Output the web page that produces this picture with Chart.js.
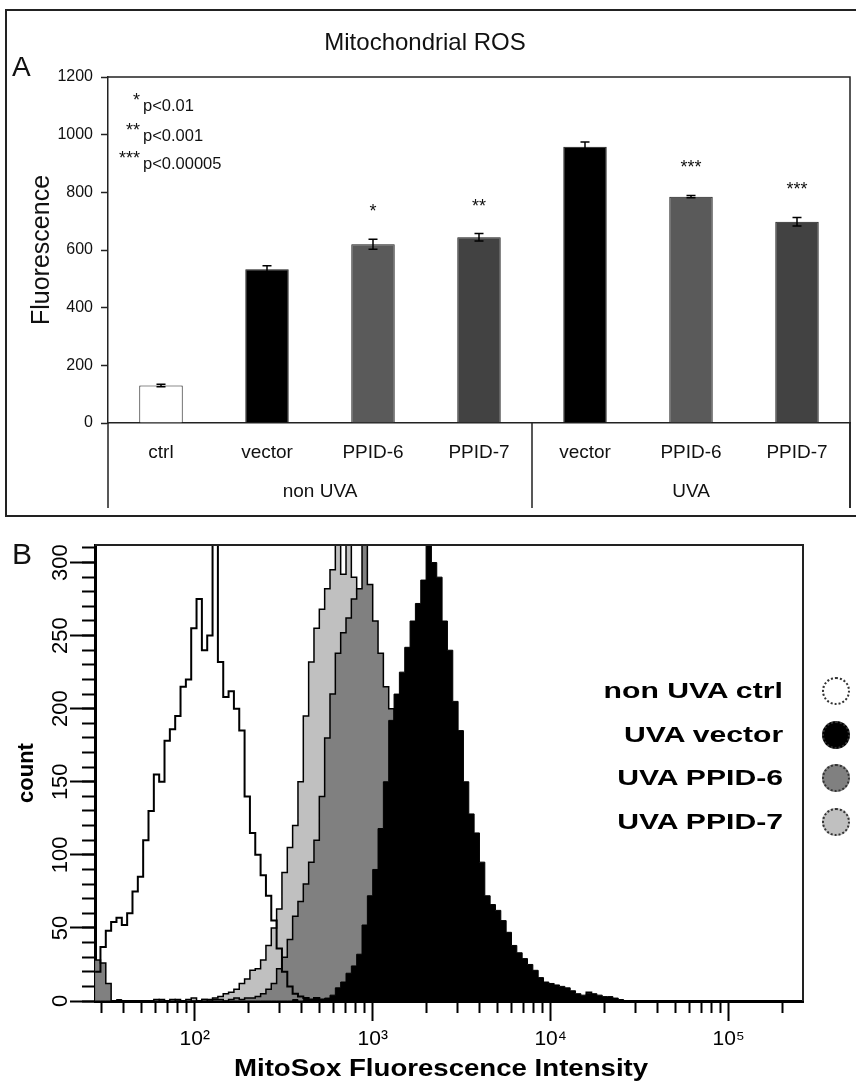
<!DOCTYPE html>
<html>
<head>
<meta charset="utf-8">
<script src="https://cdn.jsdelivr.net/npm/chart.js@4.4.1/dist/chart.umd.min.js"></script>
<style>
html,body{margin:0;padding:0;background:#fff;}
body{width:856px;height:1083px;position:relative;overflow:hidden;font-family:'Liberation Sans',Arial,sans-serif;color:#111;}
#boxA{position:absolute;left:5px;top:9px;width:900px;height:504px;border:2px solid #222;}
canvas{position:absolute;left:0;}
#cA{top:0;}
#cB{top:520px;}
.panelLetter{position:absolute;line-height:1;color:#111;}
.legText{position:absolute;right:73px;font-weight:bold;font-size:22px;line-height:1;white-space:nowrap;transform:scaleX(1.37);transform-origin:right center;color:#000;}
.legDot{position:absolute;width:24px;height:24px;border:2px dotted #333;border-radius:50%;box-sizing:content-box;}
#xTitleB{position:absolute;left:0;width:882px;top:1056px;text-align:center;font-weight:bold;font-size:24px;line-height:1;color:#000;}
#xTitleB span{display:inline-block;transform:scaleX(1.15);}
</style>
</head>
<body>
<div id="boxA"></div>
<canvas id="cA" width="856" height="520"></canvas>
<canvas id="cB" width="856" height="563"></canvas>
<div class="panelLetter" style="left:12px;top:53px;font-size:28px;">A</div>
<div class="panelLetter" style="left:12px;top:539px;font-size:30px;">B</div>
<div id="legendB"></div>
<div id="xTitleB"><span>MitoSox Fluorescence Intensity</span></div>
<script>
// ---------------- Panel A data ----------------
const categories   = ['ctrl', 'vector', 'PPID-6', 'PPID-7', 'vector', 'PPID-6', 'PPID-7'];
const groupLabels  = ['non UVA', 'UVA'];
const groupSizes   = [4, 3];
const fluorescence = [130, 533, 620, 644, 958, 785, 698];
const errors       = [4, 12, 17, 13, 17, 4, 15];
const significance = ['', '', '*', '**', '', '***', '***'];
const pValueStars  = ['*', '**', '***'];
const pValueTexts  = ['p<0.01', 'p<0.001', 'p<0.00005'];
const yTicksA      = [0, 200, 400, 600, 800, 1000, 1200];

// ---------------- Panel B data ----------------
const seriesNames = ['non UVA ctrl', 'UVA vector', 'UVA PPID-6', 'UVA PPID-7'];
// channel positions (log10 of intensity), one per histogram bin
const channelLog = [
 1.44,1.47,1.50,1.53,1.56,1.59,1.62,1.65,1.68,1.71,
 1.74,1.77,1.80,1.83,1.86,1.89,1.92,1.95,1.98,2.01,
 2.04,2.07,2.10,2.13,2.16,2.19,2.22,2.25,2.28,2.31,
 2.34,2.37,2.40,2.43,2.46,2.49,2.52,2.55,2.58,2.61,
 2.64,2.67,2.70,2.73,2.76,2.79,2.82,2.85,2.88,2.91,
 2.94,2.97,3.00,3.03,3.06,3.09,3.12,3.15,3.18,3.21,
 3.24,3.27,3.30,3.33,3.36,3.39,3.42,3.45,3.48,3.51,
 3.54,3.57,3.60,3.63,3.66,3.69,3.72,3.75,3.78,3.81,
 3.84,3.87,3.90,3.93,3.96,3.99,4.02,4.05,4.08,4.11,
 4.14,4.17,4.20,4.23,4.26,4.29,4.32,4.35,4.38,4.41,
 4.44];
const ctrlCounts = [
 20,37,48,54,57,52,60,75,85,110,
 130,155,150,178,186,195,215,220,255,275,
 240,250,312,232,208,212,200,185,140,115,
 100,86,72,55,36,20,10,5,3,2,
 1,2,1,1,0,1,0,0,1,0,
 0,0,0,0,0,0,0,0,0,0,
 0,0,0,0,0,0,0,0,0,0,
 0,0,0,0,0,0,0,0,0,0,
 0,0,0,0,0,0,0,0,0,0,
 0,0,0,0,0,0,0,0,0,0,
 0];
const vectorCounts = [
 0,0,0,0,1,0,0,0,0,0,
 0,0,0,0,0,0,0,0,0,0,
 0,0,0,0,0,0,0,0,0,0,
 0,0,0,0,0,0,0,1,0,1,
 1,1,1,2,4,9,13,19,24,32,
 52,72,90,118,150,192,210,225,242,260,
 272,288,312,300,290,260,240,205,185,150,
 128,115,95,72,66,62,55,47,38,33,
 29,25,21,16,13,12,11,10,9,7,
 5,4,5,5,4,3,3,2,1,0,
 0];
const ppid6Counts = [
 28,26,12,0,0,0,0,0,0,0,
 0,1,0,0,1,0,0,1,0,0,
 1,0,1,1,0,1,2,1,2,2,
 3,5,8,12,22,30,42,58,68,80,
 95,110,140,180,210,238,252,262,275,282,
 312,285,260,238,215,200,178,150,125,100,
 80,60,45,32,22,15,10,7,5,3,
 2,2,1,1,1,1,0,1,0,0,
 0,0,0,0,0,0,0,0,0,0,
 0,0,6,0,0,0,0,0,0,0,
 0];
const ppid7Counts = [
 0,0,0,0,0,0,0,0,0,0,
 0,0,1,0,0,1,0,0,2,0,
 1,1,2,3,5,6,8,12,15,21,
 22,28,38,50,63,88,105,120,150,195,
 232,255,268,282,295,312,292,312,290,278,
 255,225,190,155,125,95,72,52,38,27,
 18,12,8,5,3,2,1,1,0,0,
 0,0,0,0,0,0,0,0,0,0,
 0,0,0,0,0,0,0,0,0,0,
 0,0,0,0,0,0,0,0,0,0,
 0];
const xMinorTicks = [30,40,50,60,70,80,90,200,300,400,500,600,700,800,900,
                     2000,3000,4000,5000,6000,7000,8000,9000,
                     20000,30000,40000,50000,60000,70000,80000,90000,200000];
const xDecadeTicks  = [100, 1000, 10000, 100000];
const xDecadeLabels = ['10²', '10³', '10⁴', '10⁵'];
const xRange = [27.5, 262000];
const yRangeB = [0, 312];

// ---------------- styles ----------------
const ARIAL = "'Liberation Sans',Arial,sans-serif";
const barColors = ['#ffffff', '#000000', '#5a5a5a', '#424242', '#000000', '#5a5a5a', '#424242'];
const seriesFill = ['rgba(0,0,0,0)', '#000000', '#808080', '#c0c0c0'];

// ---------------- Panel A ----------------
const panelADecor = {
  id: 'panelADecor',
  afterDatasetsDraw(chart) {
    const {ctx, scales: {y}} = chart;
    const meta = chart.getDatasetMeta(0);
    ctx.save();
    ctx.strokeStyle = '#000';
    ctx.lineWidth = 1.5;
    meta.data.forEach((bar, i) => {
      const yt = y.getPixelForValue(fluorescence[i] + errors[i]);
      const yb = y.getPixelForValue(fluorescence[i] - errors[i]);
      ctx.beginPath();
      ctx.moveTo(bar.x, yt); ctx.lineTo(bar.x, yb);
      ctx.moveTo(bar.x - 4.5, yt); ctx.lineTo(bar.x + 4.5, yt);
      ctx.moveTo(bar.x - 4.5, yb); ctx.lineTo(bar.x + 4.5, yb);
      ctx.stroke();
    });
    ctx.fillStyle = '#111';
    ctx.font = '18px ' + ARIAL;
    ctx.textAlign = 'center';
    ctx.textBaseline = 'middle';
    meta.data.forEach((bar, i) => {
      if (significance[i]) {
        ctx.fillText(significance[i], bar.x, y.getPixelForValue(fluorescence[i] + errors[i]) - 27);
      }
    });
    ctx.restore();
  },
  afterDraw(chart) {
    const {ctx, chartArea: ca, scales: {x}} = chart;
    ctx.save();
    ctx.strokeStyle = '#222';
    ctx.lineWidth = 1.5;
    const bottomExt = ca.bottom + 85;
    // frame: top + right
    ctx.beginPath();
    ctx.moveTo(ca.left, ca.top); ctx.lineTo(ca.right, ca.top); ctx.lineTo(ca.right, bottomExt);
    ctx.stroke();
    // group dividers and group labels
    let start = 0;
    const bounds = [x.left];
    groupSizes.forEach((n) => {
      const end = start + n - 1;
      const rightEdge = end === categories.length - 1 ? x.right
        : (x.getPixelForValue(end) + x.getPixelForValue(end + 1)) / 2;
      bounds.push(rightEdge);
      start += n;
    });
    ctx.beginPath();
    bounds.forEach((bx) => { ctx.moveTo(bx, ca.bottom); ctx.lineTo(bx, bottomExt); });
    ctx.stroke();
    ctx.fillStyle = '#111';
    ctx.font = '19px ' + ARIAL;
    ctx.textAlign = 'center';
    ctx.textBaseline = 'middle';
    groupLabels.forEach((g, i) => {
      ctx.fillText(g, (bounds[i] + bounds[i + 1]) / 2, ca.bottom + 69);
    });
    // p-value notes
    const rowsY = [29, 59, 87];
    pValueTexts.forEach((t, i) => {
      ctx.font = '18px ' + ARIAL;
      ctx.textAlign = 'right';
      ctx.fillText(pValueStars[i], ca.left + 32, ca.top + rowsY[i] - 5);
      ctx.font = '16.5px ' + ARIAL;
      ctx.textAlign = 'left';
      ctx.fillText(t, ca.left + 35, ca.top + rowsY[i]);
    });
    ctx.restore();
  }
};

new Chart(document.getElementById('cA'), {
  type: 'bar',
  data: {
    labels: categories,
    datasets: [{
      data: fluorescence,
      backgroundColor: barColors,
      borderColor: '#1a1a1a',
      borderWidth: 1,
      barPercentage: 0.41,
      categoryPercentage: 1
    }]
  },
  options: {
    responsive: false,
    animation: false,
    devicePixelRatio: 1,
    layout: {padding: {left: 0, right: 6, top: 0, bottom: 0}},
    plugins: {
      legend: {display: false},
      tooltip: {enabled: false},
      title: {
        display: true, text: 'Mitochondrial ROS', color: '#111',
        font: {family: ARIAL, size: 24, weight: 'normal'},
        padding: {top: 29, bottom: 19.2}
      }
    },
    scales: {
      x: {
        grid: {display: false, drawTicks: false},
        border: {display: true, color: '#222', width: 1.5},
        ticks: {color: '#111', font: {family: ARIAL, size: 19}, padding: 18, autoSkip: false, maxRotation: 0},
        afterFit: (s) => { s.height = 97; }
      },
      y: {
        min: 0, max: 1200,
        afterBuildTicks: (s) => { s.ticks = yTicksA.map((v) => ({value: v})); },
        ticks: {color: '#111', font: {family: ARIAL, size: 16}, padding: 8, callback: (v) => String(v)},
        grid: {display: true, drawOnChartArea: false, drawTicks: true, tickLength: 7, tickColor: '#222', tickWidth: 1.5},
        border: {display: true, color: '#222', width: 1.5},
        title: {display: true, text: 'Fluorescence', color: '#111', font: {family: ARIAL, size: 25}, padding: {top: 27, bottom: 0}},
        afterFit: (s) => { s.width = 108; }
      }
    }
  },
  plugins: [panelADecor]
});

// ---------------- Panel B ----------------
const countsBySeries = [ctrlCounts, vectorCounts, ppid6Counts, ppid7Counts];
const datasetsB = countsBySeries.map((counts, i) => ({
  label: seriesNames[i],
  data: channelLog.map((c, k) => ({x: Math.pow(10, c), y: counts[k]})),
  stepped: true,
  fill: i === 0 ? false : 'origin',
  backgroundColor: seriesFill[i],
  borderColor: '#000',
  borderWidth: i === 0 ? 2 : (i === 1 ? 1 : 1.5),
  pointRadius: 0,
  order: i
}));

const frameB = {
  id: 'frameB',
  afterDraw(chart) {
    const {ctx, chartArea: ca} = chart;
    ctx.save();
    ctx.strokeStyle = '#222';
    ctx.lineWidth = 2;
    ctx.beginPath();
    ctx.moveTo(ca.left, ca.top); ctx.lineTo(ca.right, ca.top); ctx.lineTo(ca.right, ca.bottom);
    ctx.stroke();
    ctx.restore();
  }
};

new Chart(document.getElementById('cB'), {
  type: 'line',
  data: {datasets: datasetsB},
  options: {
    responsive: false,
    animation: false,
    devicePixelRatio: 1,
    layout: {padding: {left: 0, right: 53, top: 25, bottom: 0}},
    plugins: {legend: {display: false}, tooltip: {enabled: false}},
    scales: {
      x: {
        type: 'logarithmic', position: 'bottom', weight: 0,
        min: xRange[0], max: xRange[1],
        afterBuildTicks: (s) => { s.ticks = xMinorTicks.map((v) => ({value: v})); },
        ticks: {display: false},
        grid: {drawOnChartArea: false, drawTicks: true, tickLength: 12, tickWidth: 2, tickColor: '#000'},
        border: {display: true, width: 3, color: '#000'},
        afterFit: (s) => { s.height = 0; }
      },
      xMajor: {
        type: 'logarithmic', position: 'bottom', weight: 1,
        min: xRange[0], max: xRange[1],
        afterBuildTicks: (s) => { s.ticks = xDecadeTicks.map((v) => ({value: v})); },
        ticks: {
          display: true, autoSkip: false, maxRotation: 0, color: '#000',
          font: {family: ARIAL, size: 21}, padding: 6,
          callback: (v) => xDecadeLabels[xDecadeTicks.indexOf(v)]
        },
        grid: {drawOnChartArea: false, drawTicks: true, tickLength: 20, tickWidth: 2, tickColor: '#000'},
        border: {display: false},
        afterFit: (s) => { s.height = 82; }
      },
      y: {
        position: 'left', weight: 0,
        min: yRangeB[0], max: yRangeB[1],
        ticks: {display: false, stepSize: 10, includeBounds: false},
        grid: {drawOnChartArea: false, drawTicks: true, tickLength: 13, tickWidth: 2, tickColor: '#000'},
        border: {display: true, width: 3, color: '#000'},
        afterFit: (s) => { s.width = 0; }
      },
      yMajor: {
        position: 'left', weight: 1,
        min: yRangeB[0], max: yRangeB[1],
        ticks: {
          stepSize: 50, includeBounds: false, autoSkip: false,
          minRotation: 90, maxRotation: 90, crossAlign: 'center', padding: -9,
          font: {family: ARIAL, size: 22}, color: '#000'
        },
        grid: {drawOnChartArea: false, drawTicks: true, tickLength: 25, tickWidth: 2, tickColor: '#000'},
        border: {display: false},
        title: {display: true, text: 'count', color: '#000', font: {family: ARIAL, size: 22, weight: 'bold'}, padding: {top: 14, bottom: 0}},
        afterFit: (s) => { s.width = 95; }
      }
    }
  },
  plugins: [frameB]
});

// legend for panel B (text + dotted circles)
const legendB = document.getElementById('legendB');
seriesNames.forEach((name, i) => {
  const cy = 691 + i * 43.5;
  const t = document.createElement('div');
  t.className = 'legText';
  t.textContent = name;
  t.style.top = (cy - 10.7) + 'px';
  legendB.appendChild(t);
  const d = document.createElement('div');
  d.className = 'legDot';
  d.style.left = '822px';
  d.style.top = (cy - 14) + 'px';
  d.style.background = i === 0 ? '#ffffff' : seriesFill[i];
  legendB.appendChild(d);
});
</script>
</body>
</html>
